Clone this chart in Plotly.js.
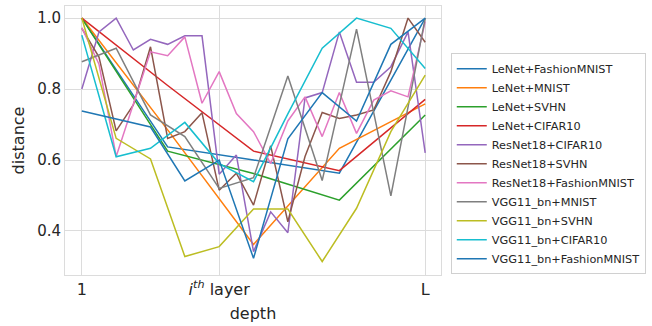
<!DOCTYPE html>
<html>
<head>
<meta charset="utf-8">
<script src="https://cdn.plot.ly/plotly-3.0.1.min.js"></script>
<style>html,body{margin:0;padding:0;background:#fff;}#chart{width:652px;height:326px;}</style>
</head>
<body>
<div id="chart"></div>
<script>
// relative depth of each recorded layer
const lenetDepth  = [0, 0.25, 0.5, 0.75, 1];
const vggDepth    = [0, 0.1, 0.2, 0.3, 0.4, 0.5, 0.6, 0.7, 0.8, 0.9, 1];
const resnetDepth = [0, 0.05, 0.1, 0.15, 0.2, 0.25, 0.3, 0.35, 0.4, 0.45, 0.5,
                     0.55, 0.6, 0.65, 0.7, 0.75, 0.8, 0.85, 0.9, 0.95, 1];

const seriesNames = ["LeNet+FashionMNIST","LeNet+MNIST","LeNet+SVHN","LeNet+CIFAR10",
  "ResNet18+CIFAR10","ResNet18+SVHN","ResNet18+FashionMNIST",
  "VGG11_bn+MNIST","VGG11_bn+SVHN","VGG11_bn+CIFAR10","VGG11_bn+FashionMNIST"];

const lenetFashion = [1.0, 0.637, 0.60, 0.563, 1.0];
const lenetMnist   = [1.0, 0.685, 0.362, 0.633, 0.758];
const lenetSvhn    = [1.0, 0.625, 0.562, 0.487, 0.727];
const lenetCifar   = [1.0, 0.81, 0.625, 0.570, 0.771];

const resnetCifar   = [0.80, 0.961, 1.0, 0.91, 0.94, 0.926, 0.95, 0.95, 0.56, 0.614, 0.342,
                       0.454, 0.395, 0.775, 0.79, 0.961, 0.819, 0.819, 0.863, 0.961, 0.62];
const resnetSvhn    = [0.971, 0.89, 0.682, 0.755, 0.919, 0.661, 0.68, 0.733, 0.515, 0.563, 0.473,
                       0.64, 0.426, 0.61, 0.734, 0.717, 0.727, 0.741, 0.849, 1.0, 0.932];
const resnetFashion = [0.973, 0.87, 0.61, 0.755, 0.905, 0.894, 0.947, 0.76, 0.849, 0.731, 0.68,
                       0.59, 0.71, 0.778, 0.666, 0.79, 0.675, 0.769, 0.795, 0.778, 0.99];

const vggMnist   = [0.877, 0.915, 0.727, 0.666, 0.52, 0.55, 0.837, 0.542, 0.969, 0.499, 1.0];
const vggSvhn    = [1.0, 0.661, 0.603, 0.328, 0.356, 0.462, 0.462, 0.314, 0.464, 0.68, 0.839];
const vggCifar   = [0.952, 0.609, 0.633, 0.706, 0.59, 0.539, 0.73, 0.915, 1.0, 0.971, 0.858];
const vggFashion = [0.738, 0.715, 0.693, 0.541, 0.60, 0.323, 0.66, 0.79, 0.71, 0.926, 1.0];

const xTickVals  = [0, 0.4, 1];
const xTickText  = ["1", "<i>i</i><sup><i>th</i></sup> layer", "L"];
const yTickVals  = [0.4, 0.6, 0.8, 1.0];
const yTickText  = ["0.4", "0.6", "0.8", "1.0"];

const colors = ["#1f77b4","#ff7f0e","#2ca02c","#d62728","#9467bd","#8c564b",
                "#e377c2","#7f7f7f","#bcbd22","#17becf","#1f77b4"];
const xs = [lenetDepth, lenetDepth, lenetDepth, lenetDepth,
            resnetDepth, resnetDepth, resnetDepth,
            vggDepth, vggDepth, vggDepth, vggDepth];
const ys = [lenetFashion, lenetMnist, lenetSvhn, lenetCifar,
            resnetCifar, resnetSvhn, resnetFashion,
            vggMnist, vggSvhn, vggCifar, vggFashion];

const traces = seriesNames.map((n, i) => ({
  type: "scatter", mode: "lines", name: n, x: xs[i], y: ys[i],
  line: {color: colors[i], width: 1.5}
}));

const txt = "#262626";
const layout = {
  width: 652, height: 326,
  margin: {l: 65, r: 209, t: 6, b: 51},
  paper_bgcolor: "#fff", plot_bgcolor: "#fff",
  font: {family: "DejaVu Sans", color: txt},
  showlegend: true,
  legend: {
    x: 1.026, xanchor: "left", y: 0.414, yanchor: "middle",
    bordercolor: "#d0d0d0", borderwidth: 1,
    font: {size: 11.3, color: txt, family: "DejaVu Sans"},
    tracegroupgap: 0
  },
  xaxis: {
    range: [-0.049, 1.046],
    tickvals: xTickVals, ticktext: xTickText,
    tickfont: {size: 16, color: txt},
    showgrid: true, gridcolor: "#dcdcdc", gridwidth: 1,
    zeroline: false, showline: true, mirror: true, linecolor: "#dcdcdc", linewidth: 1,
    ticks: "", ticklen: 0,
    title: {text: "depth", font: {size: 16, color: txt}, standoff: 9}
  },
  yaxis: {
    range: [0.276, 1.034],
    tickvals: yTickVals, ticktext: yTickText,
    tickfont: {size: 15, color: txt},
    showgrid: true, gridcolor: "#dcdcdc", gridwidth: 1,
    zeroline: false, showline: true, mirror: true, linecolor: "#dcdcdc", linewidth: 1,
    ticks: "", ticklen: 0,
    title: {text: "distance", font: {size: 16, color: txt}, standoff: 8}
  }
};

Plotly.newPlot("chart", traces, layout, {displayModeBar: false, staticPlot: true});
</script>
</body>
</html>
